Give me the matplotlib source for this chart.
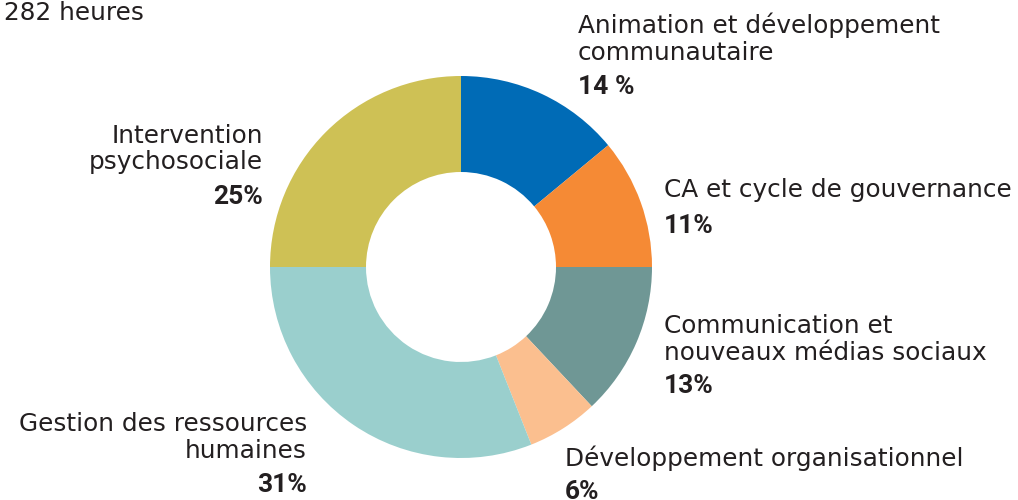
import matplotlib.pyplot as plt

# Data
categories = [
    ["Animation et développement", "communautaire"],
    ["CA et cycle de gouvernance"],
    ["Communication et", "nouveaux médias sociaux"],
    ["Développement organisationnel"],
    ["Gestion des ressources", "humaines"],
    ["Intervention", "psychosociale"],
]
values = [14, 11, 13, 6, 31, 25]
pct_labels = ["14 %", "11%", "13%", "6%", "31%", "25%"]
total_label = "282 heures"

colors = ['#006bb6', '#f58a35', '#6f9795', '#fbbf8f', '#9acfcd', '#cec155']

# label layout in pixel coords (x, first baseline, pct baseline, align)
layout = [
    (578, 33, 94, 'left'),
    (664, 197, 233, 'left'),
    (664, 333, 393, 'left'),
    (565, 466, 499, 'left'),
    (307, 431, 492, 'right'),
    (263, 143, 204, 'right'),
]

W, H = 1018, 500
fig = plt.figure(figsize=(W / 100, H / 100), dpi=100)
ax = fig.add_axes([0, 0, 1, 1])

ax.pie(values, colors=colors, startangle=90, counterclock=False,
       center=(461, H - 267), radius=191, frame=True,
       wedgeprops=dict(width=96, edgecolor='none'))
ax.set_xlim(0, W)
ax.set_ylim(0, H)
ax.set_aspect('equal')
ax.axis('off')

txt = '#231f20'
bold_font = ['Roboto', 'DejaVu Sans']
for lines, pct, (x, y0, yp, ha) in zip(categories, pct_labels, layout):
    for i, line in enumerate(lines):
        ax.text(x, H - (y0 + 26.5 * i), line, ha=ha, va='baseline',
                fontsize=17.8, color=txt)
    ax.text(x, H - yp, pct, ha=ha, va='baseline', fontsize=19,
            fontweight='bold', color=txt, family=bold_font)

ax.text(4, H - 20, total_label, ha='left', va='baseline', fontsize=17.8, color=txt)

fig.savefig('out.png', dpi=100)
